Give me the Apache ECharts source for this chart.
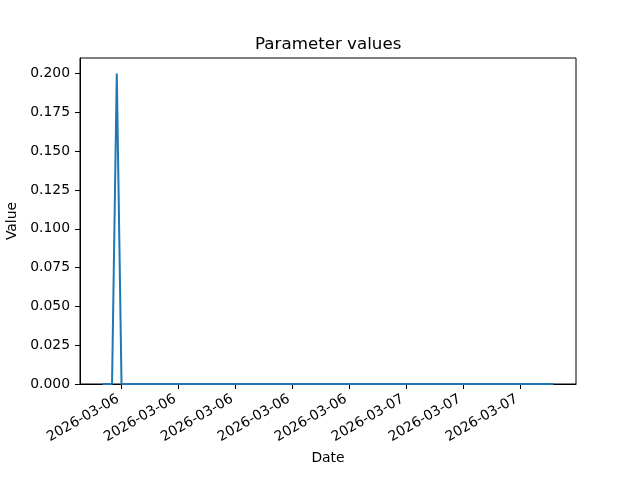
<!DOCTYPE html>
<html>
<head>
<meta charset="utf-8">
<script src="https://cdn.jsdelivr.net/npm/echarts@6/dist/echarts.min.js"></script>
<style>html,body{margin:0;padding:0;background:#fff}#c{width:640px;height:480px}</style>
</head>
<body>
<div id="c"></div>
<script>
// Data (timestamps in UTC)
const times = ['2026-03-06T08:00:00Z', '2026-03-06T08:30:00Z', '2026-03-06T08:45:00Z', '2026-03-06T09:00:00Z', '2026-03-07T07:45:00Z'];
const values = [0, 0, 0.2, 0, 0];

const xTickTimes = ['2026-03-06T09:00:00Z', '2026-03-06T12:00:00Z', '2026-03-06T15:00:00Z', '2026-03-06T18:00:00Z',
  '2026-03-06T21:00:00Z', '2026-03-07T00:00:00Z', '2026-03-07T03:00:00Z', '2026-03-07T06:00:00Z'];
const xTickLabels = ['2026-03-06', '2026-03-06', '2026-03-06', '2026-03-06', '2026-03-06', '2026-03-07', '2026-03-07', '2026-03-07'];
const yTicks = [0, 0.025, 0.05, 0.075, 0.1, 0.125, 0.15, 0.175, 0.2];
const yTickLabels = ['0.000', '0.025', '0.050', '0.075', '0.100', '0.125', '0.150', '0.175', '0.200'];

// Axis works in hours since the start of 2026-03-06 (UTC)
const base = Date.parse('2026-03-06T00:00:00Z');
const toH = t => (Date.parse(t) - base) / 3600000;
const tH = times.map(toH);
const xTickH = xTickTimes.map(toH);
const span = tH[tH.length - 1] - tH[0];
const xMin = tH[0] - span * 0.05;
const xMax = tH[tH.length - 1] + span * 0.05;

const font = 'DejaVu Sans';
const chart = echarts.init(document.getElementById('c'), null, {renderer: 'canvas'});
chart.setOption({
  animation: false,
  backgroundColor: '#fff',
  title: {
    text: 'Parameter values', left: 250, top: 31,
    textStyle: {fontFamily: font, fontSize: 16.7, fontWeight: 'normal', color: '#000'}
  },
  grid: {left: 80, right: 64, top: 58, bottom: 96, show: true, borderColor: '#000', borderWidth: 1,
    containLabel: false, outerBoundsMode: 'none'},
  xAxis: {
    type: 'value', min: xMin, max: xMax,
    name: 'Date', nameLocation: 'middle', nameGap: 67,
    nameTextStyle: {fontFamily: font, fontSize: 13.9, color: '#000'},
    axisLine: {show: true, lineStyle: {color: '#000', width: 1}},
    axisTick: {show: true, inside: false, length: 5, lineStyle: {color: '#000'}, customValues: xTickH},
    axisLabel: {
      show: true, rotate: 30, margin: 12, padding: [0, 4, 0, 0], fontFamily: font, fontSize: 13.9, color: '#000',
      customValues: xTickH,
      formatter: v => { const i = xTickH.findIndex(t => Math.abs(t - v) < 1e-6); return i >= 0 ? xTickLabels[i] : ''; }
    },
    splitLine: {show: false}
  },
  yAxis: {
    type: 'value', min: 0, max: 0.21,
    name: 'Value', nameLocation: 'middle', nameGap: 49, nameRotate: 90,
    nameTextStyle: {fontFamily: font, fontSize: 13.9, color: '#000'},
    axisLine: {show: true, lineStyle: {color: '#000', width: 1}},
    axisTick: {show: true, inside: false, length: 5, lineStyle: {color: '#000'}, customValues: yTicks},
    axisLabel: {
      show: true, margin: 10, fontFamily: font, fontSize: 13.9, color: '#000',
      customValues: yTicks,
      formatter: v => { const i = yTicks.findIndex(t => Math.abs(t - v) < 1e-9); return i >= 0 ? yTickLabels[i] : ''; }
    },
    splitLine: {show: false}
  },
  series: [{
    type: 'line', data: tH.map((t, i) => [t, values[i]]),
    showSymbol: false, symbol: 'none', clip: true,
    lineStyle: {color: '#1f77b4', width: 2}
  }]
});
</script>
</body>
</html>
